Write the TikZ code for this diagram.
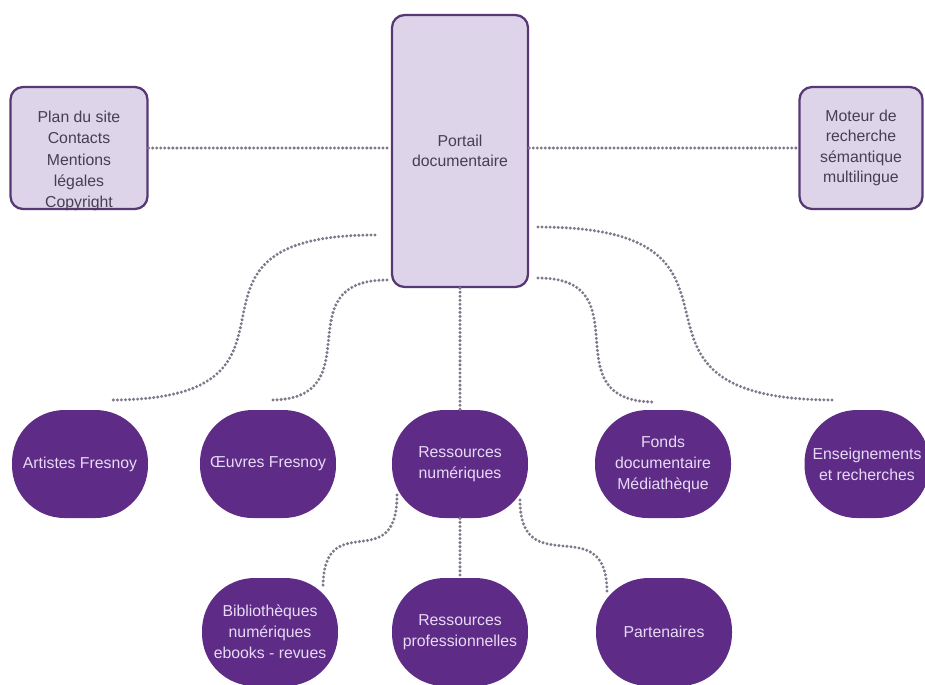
\documentclass[tikz,border=0pt]{standalone}
\usepackage{fontspec}
\setmainfont{Liberation Sans}
\usetikzlibrary{calc}

\definecolor{boxfill}{RGB}{221,212,233}
\definecolor{boxline}{RGB}{88,56,116}
\definecolor{boxtext}{RGB}{72,62,84}
\definecolor{bubblefill}{RGB}{94,44,134}
\definecolor{bubbletext}{RGB}{232,218,246}
\definecolor{linkgray}{RGB}{128,120,138}

\tikzset{
  box/.style={draw=boxline,fill=boxfill,line width=1.3pt,rounded corners=0.25cm,
    text=boxtext,align=center,font=\fontsize{9}{11.6}\selectfont},
  boxtxt/.style={text=boxtext,align=center,font=\fontsize{9}{12.1}\selectfont},
  bubble/.style={fill=bubblefill,rounded corners=1.05cm,text=bubbletext,align=center,
    minimum width=2.72cm,minimum height=2.16cm,font=\fontsize{9}{12}\selectfont},
  link/.style={draw=linkgray,line width=1.9pt,line cap=round,dash pattern=on 0pt off 2.3pt}
}

\begin{document}
\begin{tikzpicture}[x=0.02cm,y=-0.02cm]
\clip (0,0) rectangle (925,684);
\node[box,minimum width=2.74cm,minimum height=2.44cm] (plan) at (79,148) {};
\node[boxtxt] (plantxt) at (79,161) {Plan du site\\Contacts\\Mentions\\légales\\Copyright};
\node[box,minimum width=2.72cm,minimum height=5.44cm] (portail) at (460,151) {Portail\\documentaire};
\node[box,minimum width=2.46cm,minimum height=2.44cm] (moteur) at (861,148) {Moteur de\\recherche\\sémantique\\multilingue};

\node[bubble] (artistes) at (80,464) {Artistes Fresnoy};
\node[bubble] (oeuvres) at (268,464) {Œuvres Fresnoy};
\node[bubble] (resnum) at (460,464) {Ressources\\numériques};
\node[bubble] (fonds) at (663,464) {Fonds\\documentaire\\Médiathèque};
\node[bubble,minimum width=2.5cm] (enseign) at (867,464) {Enseignements\\et recherches};
\node[bubble] (biblio) at (270,632) {Bibliothèques\\numériques\\ebooks - revues};
\node[bubble] (respro) at (460,632) {Ressources\\professionnelles};
\node[bubble] (partenaires) at (664,632) {Partenaires};

\coordinate (a1) at (375,235);
\coordinate (a2) at (110,400);
\coordinate (b1) at (387,280);
\coordinate (b2) at (270,400);
\coordinate (d1) at (538,278);
\coordinate (d2) at (655,402);
\coordinate (e1) at (538,227);
\coordinate (e2) at (835,400);
\coordinate (f1) at (397,495);
\coordinate (f2) at (323,588);
\coordinate (g1) at (520,500);
\coordinate (g2) at (607,592);

\draw[link] (plan.east) -- (plan.east -| portail.west);
\draw[link] (moteur.west -| portail.east) -- (moteur.west);
\draw[link] (portail.south) -- (resnum.north);
\draw[link] (resnum.south) -- (respro.north);
\draw[link] (a1) to[out=180,in=0,looseness=1.9] (a2);
\draw[link] (b1) to[out=180,in=0,looseness=1.6] (b2);
\draw[link] (d1) to[out=0,in=180,looseness=1.6] (d2);
\draw[link] (e1) to[out=0,in=180,looseness=1.9] (e2);
\draw[link] (f1) to[out=-90,in=90,looseness=1.8] (f2);
\draw[link] (g1) to[out=-90,in=90,looseness=1.7] (g2);
\end{tikzpicture}
\end{document}
